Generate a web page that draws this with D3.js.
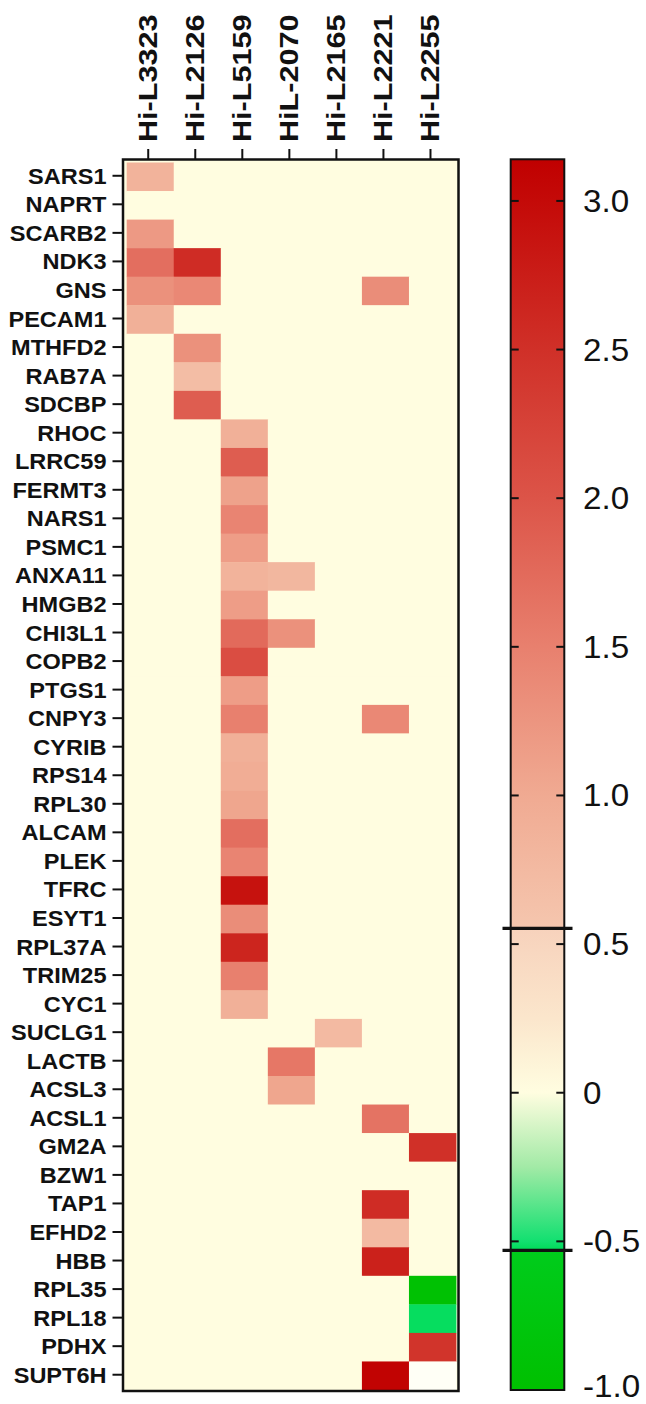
<!DOCTYPE html>
<html>
<head>
<meta charset="utf-8">
<script src="https://d3js.org/d3.v7.min.js"></script>
<style>
body{margin:0;background:#fff;}
svg{display:block;}
</style>
</head>
<body>
<div id="chart"></div>
<script>
var samples = ["Hi-L3323","Hi-L2126","Hi-L5159","HiL-2070","Hi-L2165","Hi-L2221","Hi-L2255"];

var genes = ["SARS1","NAPRT","SCARB2","NDK3","GNS","PECAM1","MTHFD2","RAB7A","SDCBP","RHOC",
  "LRRC59","FERMT3","NARS1","PSMC1","ANXA11","HMGB2","CHI3L1","COPB2","PTGS1","CNPY3",
  "CYRIB","RPS14","RPL30","ALCAM","PLEK","TFRC","ESYT1","RPL37A","TRIM25","CYC1",
  "SUCLG1","LACTB","ACSL3","ACSL1","GM2A","BZW1","TAP1","EFHD2","HBB","RPL35",
  "RPL18","PDHX","SUPT6H"];

// log2 fold change per gene, one value per sample (0 = not significant, null = no value)
var logFC = [
  [0.85,0,0,0,0,0,0],
  [0,0,0,0,0,0,0],
  [1.2,0,0,0,0,0,0],
  [1.7,2.55,0,0,0,0,0],
  [1.3,1.4,0,0,0,1.35,0],
  [0.9,0,0,0,0,0,0],
  [0,1.3,0,0,0,0,0],
  [0,0.7,0,0,0,0,0],
  [0,1.9,0,0,0,0,0],
  [0,0,0.9,0,0,0,0],
  [0,0,1.9,0,0,0,0],
  [0,0,1.1,0,0,0,0],
  [0,0,1.45,0,0,0,0],
  [0,0,1.15,0,0,0,0],
  [0,0,0.85,0.8,0,0,0],
  [0,0,1.15,0,0,0,0],
  [0,0,1.75,1.3,0,0,0],
  [0,0,2.1,0,0,0,0],
  [0,0,1.15,0,0,0,0],
  [0,0,1.5,0,0,1.4,0],
  [0,0,0.9,0,0,0,0],
  [0,0,0.95,0,0,0,0],
  [0,0,1.05,0,0,0,0],
  [0,0,1.7,0,0,0,0],
  [0,0,1.45,0,0,0,0],
  [0,0,2.9,0,0,0,0],
  [0,0,1.35,0,0,0,0],
  [0,0,2.65,0,0,0,0],
  [0,0,1.5,0,0,0,0],
  [0,0,0.9,0,0,0,0],
  [0,0,0,0,0.75,0,0],
  [0,0,0,1.6,0,0,0],
  [0,0,0,1.05,0,0,0],
  [0,0,0,0,0,1.65,0],
  [0,0,0,0,0,0,2.5],
  [0,0,0,0,0,0,0],
  [0,0,0,0,0,2.55,0],
  [0,0,0,0,0,0.75,0],
  [0,0,0,0,0,2.7,0],
  [0,0,0,0,0,0,-0.95],
  [0,0,0,0,0,0,-0.52],
  [0,0,0,0,0,0,2.45],
  [0,0,0,0,0,3.1,null]
];

var legendTicks = [3.0, 2.5, 2.0, 1.5, 1.0, 0.5, 0, -0.5, -1.0];
var legendBreaks = [0.553, -0.53];
var legendRange = [-1, 3.14];

var colorStops = [-1.0, -0.531, -0.529, -0.5, -0.25, 0, 0.25, 0.552, 0.554, 1.0, 1.5, 2.0, 2.5, 3.0, 3.14];
var colorValues = ["#00c000","#00cc1c","#00dc58","#12e070","#a2eaa6","#fffde0","#fbe6cc","#f7d2bc",
  "#f5c6ae","#f0aa92","#e8806e","#dc5448","#d03028","#c40a08","#c00000"];

var W = 646, H = 1404;
var svg = d3.select("#chart").append("svg")
  .attr("width", W)
  .attr("height", H);

var font = "'Liberation Sans', Arial, Helvetica, sans-serif";

var color = d3.scaleLinear().domain(colorStops).range(colorValues).clamp(true);

var x = d3.scaleBand().domain(samples).range([126.7, 456]);
var y = d3.scaleBand().domain(genes).range([162.5, 1390]);

var cells = [];
logFC.forEach(function(row, i){
  row.forEach(function(v, j){
    cells.push({gene: genes[i], sample: samples[j], value: v});
  });
});

// frame + background
svg.append("rect")
  .attr("x", 123).attr("y", 159.5)
  .attr("width", 458.5 - 123).attr("height", 1391 - 159.5)
  .attr("fill", color(0));

svg.append("g").selectAll("rect")
  .data(cells)
  .enter().append("rect")
  .attr("x", function(d){ return x(d.sample); })
  .attr("y", function(d){ return y(d.gene); })
  .attr("width", x.bandwidth() + 0.4)
  .attr("height", y.bandwidth() + 0.4)
  .attr("fill", function(d){ return d.value == null ? "#fffff6" : color(d.value); });

svg.append("rect")
  .attr("x", 123).attr("y", 159.5)
  .attr("width", 458.5 - 123).attr("height", 1391 - 159.5)
  .attr("fill", "none")
  .attr("stroke", "#111")
  .attr("stroke-width", 2.5);

// row labels
var rowG = svg.append("g");
rowG.selectAll("line")
  .data(genes)
  .enter().append("line")
  .attr("x1", 112.5).attr("x2", 123)
  .attr("y1", function(d){ return y(d) + y.bandwidth()/2 - 1; })
  .attr("y2", function(d){ return y(d) + y.bandwidth()/2 - 1; })
  .attr("stroke", "#111").attr("stroke-width", 2);
rowG.selectAll("text")
  .data(genes)
  .enter().append("text")
  .attr("transform", function(d){
    return "translate(106.5," + (y(d) + y.bandwidth()/2 + 7) + ") scale(1.07,1)";
  })
  .attr("text-anchor", "end")
  .style("font-family", font)
  .style("font-weight", "bold")
  .style("font-size", "22px")
  .style("fill", "#111")
  .text(function(d){ return d; });

// column labels
var colG = svg.append("g");
colG.selectAll("line")
  .data(samples)
  .enter().append("line")
  .attr("x1", function(d){ return x(d) + x.bandwidth()/2 - 2; })
  .attr("x2", function(d){ return x(d) + x.bandwidth()/2 - 2; })
  .attr("y1", 149).attr("y2", 159.5)
  .attr("stroke", "#111").attr("stroke-width", 2);
colG.selectAll("text")
  .data(samples)
  .enter().append("text")
  .attr("transform", function(d){
    return "translate(" + (x(d) + x.bandwidth()/2 - 2 + 9) + ",142) rotate(-90) scale(1.2,1)";
  })
  .attr("text-anchor", "start")
  .style("font-family", font)
  .style("font-weight", "bold")
  .style("font-size", "25.5px")
  .style("fill", "#111")
  .text(function(d){ return d; });

// colour bar
var barX0 = 510.7, barX1 = 564.3;
var ly = d3.scaleLinear().domain(legendRange).range([1390, 159.3]);

var grad = svg.append("defs").append("linearGradient")
  .attr("id", "legend_gradient")
  .attr("x1", "0%").attr("y1", "0%")
  .attr("x2", "0%").attr("y2", "100%");
grad.selectAll("stop")
  .data(colorStops.slice().reverse())
  .enter().append("stop")
  .attr("offset", function(d){ return (legendRange[1] - d) / (legendRange[1] - legendRange[0]); })
  .attr("stop-color", function(d){ return color(d); });

svg.append("rect")
  .attr("x", barX0).attr("y", ly(legendRange[1]))
  .attr("width", barX1 - barX0)
  .attr("height", ly(legendRange[0]) - ly(legendRange[1]))
  .attr("fill", "url(#legend_gradient)")
  .attr("stroke", "#111")
  .attr("stroke-width", 2);

var legG = svg.append("g");
legG.selectAll(".tickL")
  .data(legendTicks.slice(0, -1))
  .enter().append("line")
  .attr("class", "tickL")
  .attr("x1", barX0).attr("x2", barX0 + 8)
  .attr("y1", function(d){ return ly(d); }).attr("y2", function(d){ return ly(d); })
  .attr("stroke", "#111").attr("stroke-width", 2);
legG.selectAll(".tickR")
  .data(legendTicks.slice(0, -1))
  .enter().append("line")
  .attr("class", "tickR")
  .attr("x1", barX1 - 8).attr("x2", barX1)
  .attr("y1", function(d){ return ly(d); }).attr("y2", function(d){ return ly(d); })
  .attr("stroke", "#111").attr("stroke-width", 2);
legG.selectAll("text")
  .data(legendTicks)
  .enter().append("text")
  .attr("transform", function(d){
    // bottom label would run off the page, keep it just inside
    return "translate(583," + Math.min(ly(d) + 11, H - 7.5) + ") scale(1.07,1)";
  })
  .style("font-family", font)
  .style("font-size", "31px")
  .style("fill", "#111")
  .text(function(d){ return d == 0 ? "0" : d.toFixed(1); });

legG.selectAll(".brk")
  .data(legendBreaks)
  .enter().append("line")
  .attr("class", "brk")
  .attr("x1", 502.5).attr("x2", 572.5)
  .attr("y1", function(d){ return ly(d); }).attr("y2", function(d){ return ly(d); })
  .attr("stroke", "#111").attr("stroke-width", 3.2);
</script>
</body>
</html>
